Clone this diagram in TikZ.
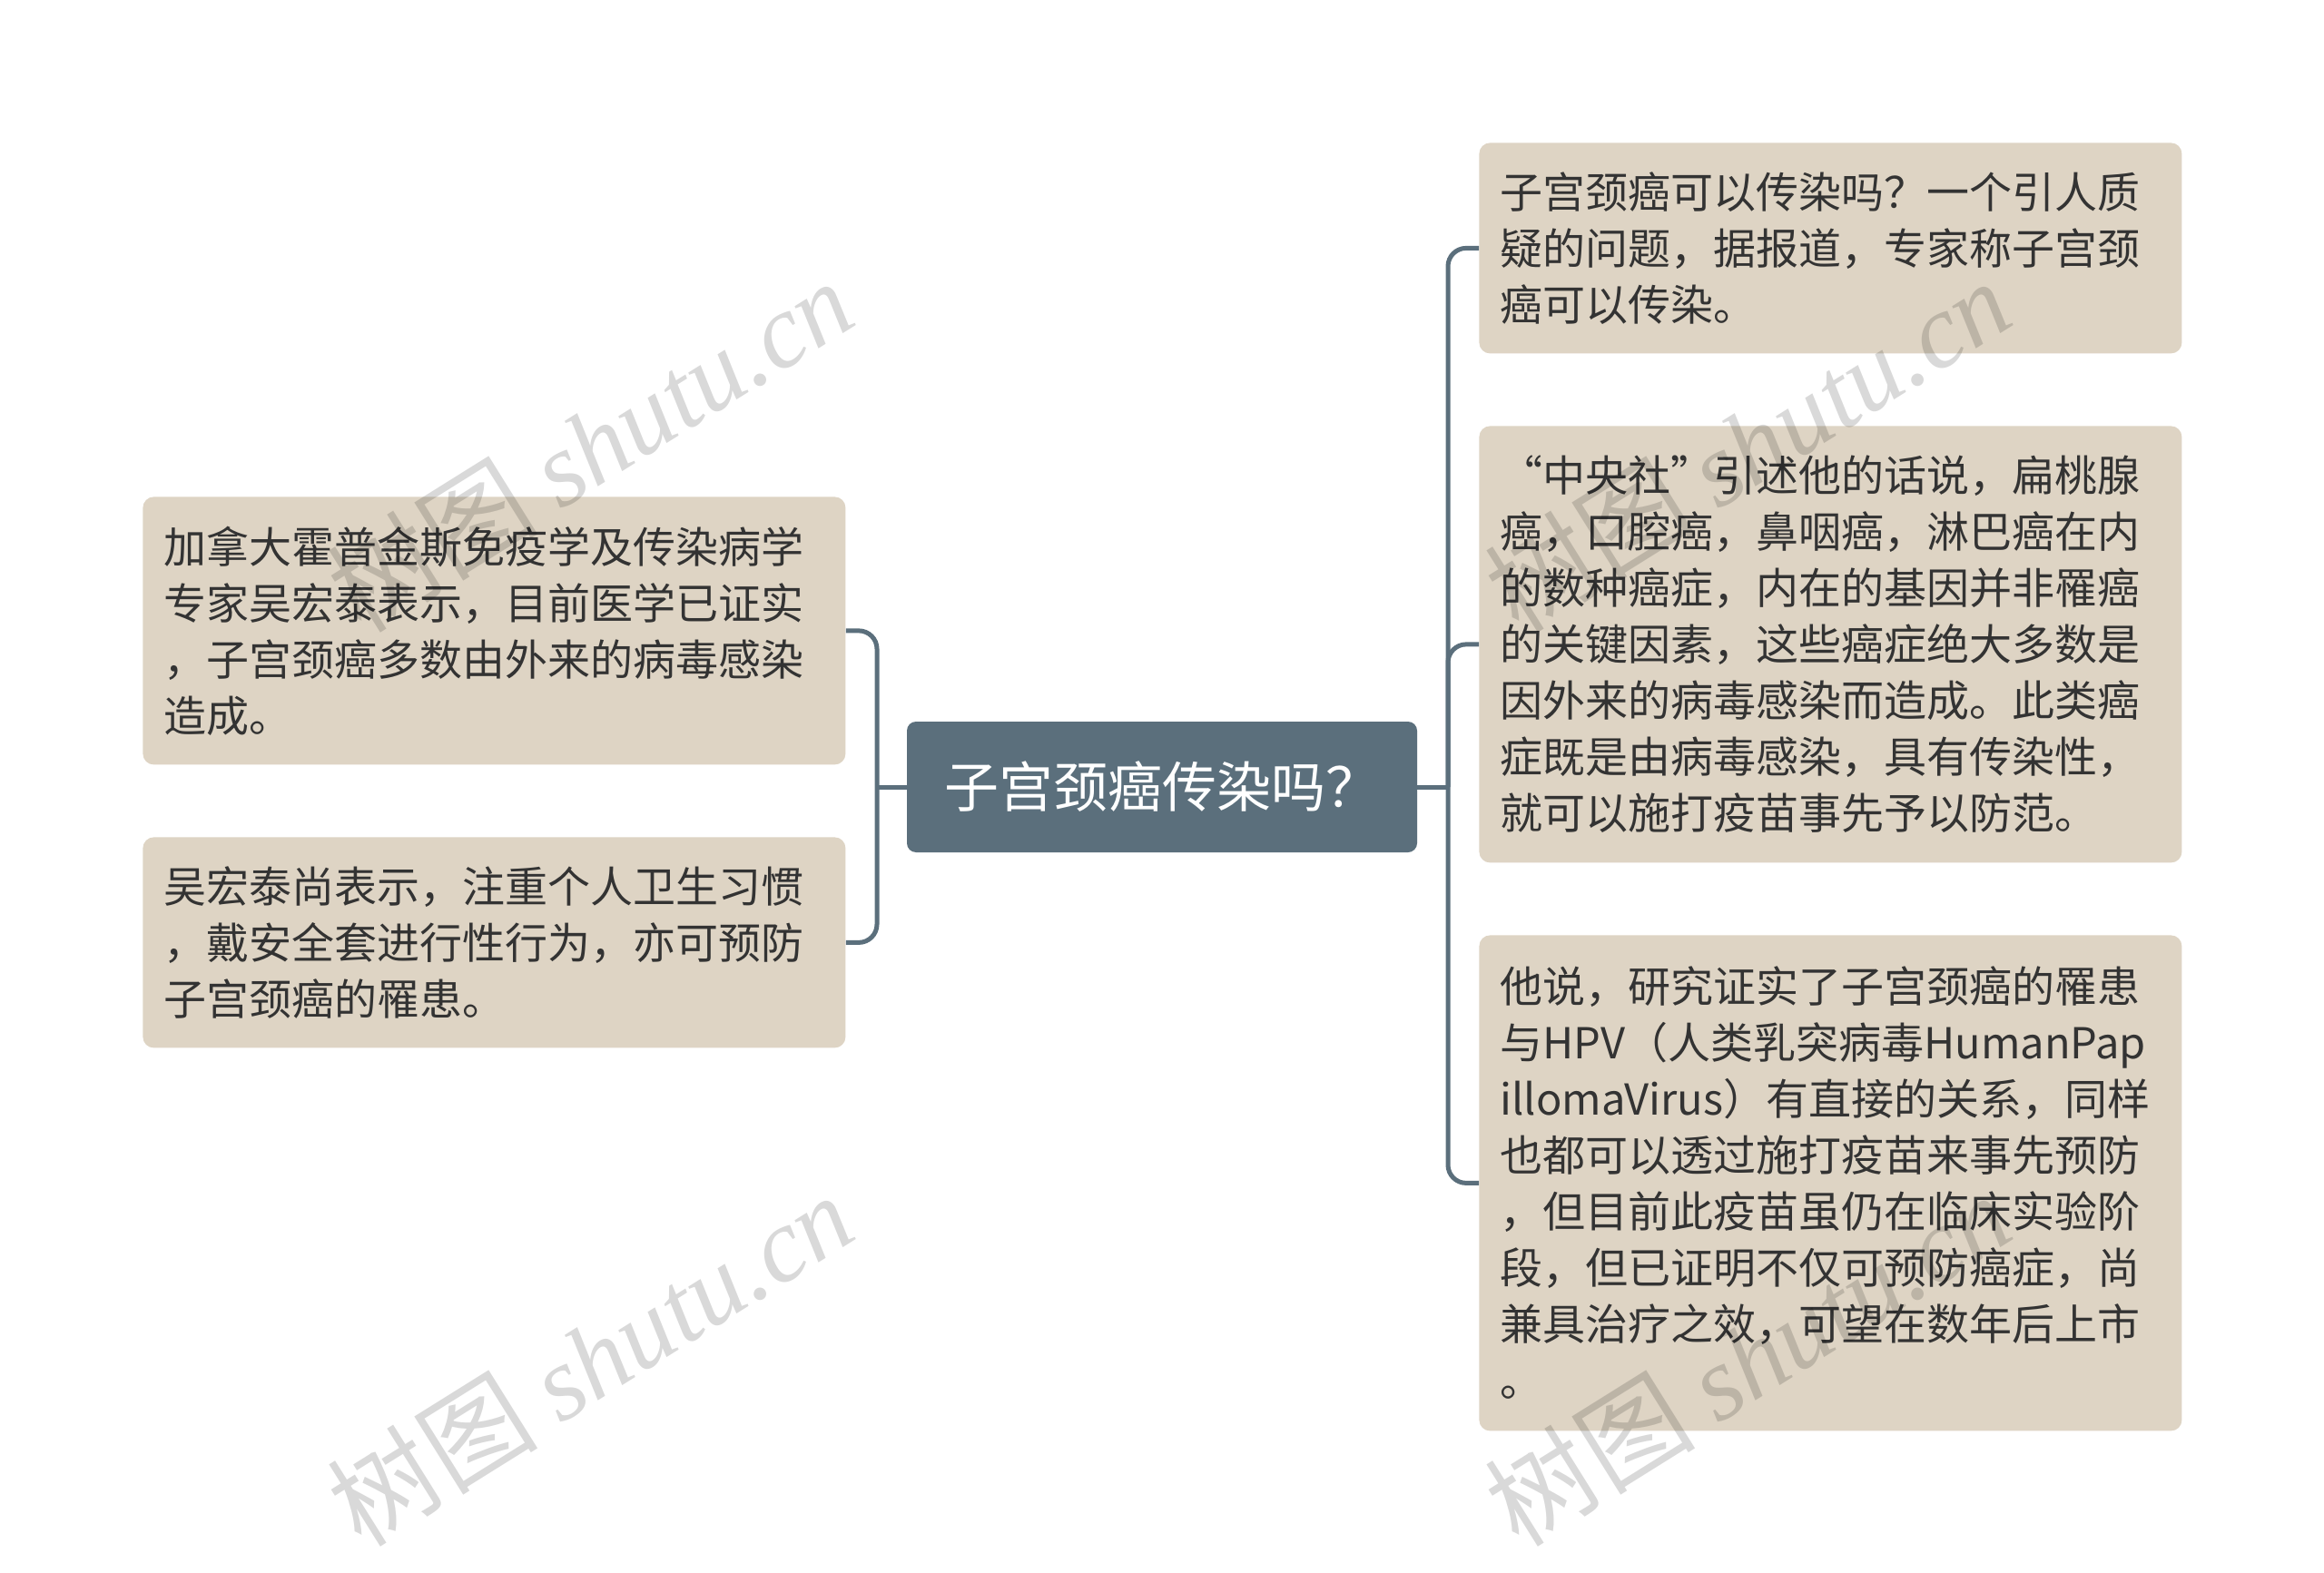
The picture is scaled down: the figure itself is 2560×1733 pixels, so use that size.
\documentclass[tikz,border=0pt]{standalone}
\usepackage{fontspec}
\setmainfont{Noto Sans CJK SC}
\newfontfamily\cjk{Noto Sans CJK SC}
\newfontfamily\wmlatin{Liberation Serif}
\definecolor{boxc}{HTML}{DED4C4}
\definecolor{mainc}{HTML}{5B6F7C}
\definecolor{txtc}{HTML}{333333}
\begin{document}
\begin{tikzpicture}[x=0.5pt,y=-0.5pt,
  leaf/.style={fill=boxc, rounded corners=6pt, anchor=north west, inner xsep=11.5pt, inner ysep=0pt,
    text width=364pt, align=left, font=\fontsize{23.5}{31}\selectfont, text=txtc},
  root/.style={fill=mainc, rounded corners=5pt, minimum width=281pt, minimum height=72pt,
    inner sep=0pt, text=white, font=\fontsize{30}{34}\selectfont},
  conn/.style={draw=mainc, line width=2.5pt, rounded corners=10pt},
  wm/.style={text=black, text opacity=0.15, rotate=32, inner sep=0pt,
    font=\fontsize{58}{58}\selectfont}]
\fill[white] (0,0) rectangle (2560,1733);
\useasboundingbox (0,0) rectangle (2560,1733);

\node[root] (C) at (1280,867) {子宫颈癌传染吗？};

\node[leaf, minimum height=147.5pt] (L1) at (157,547)
  {加拿大霍普金斯免疫学及传染病学\\专家吴宏泰表示，目前医学已证实\\，子宫颈癌多数由外来的病毒感染\\造成。};
\node[leaf, minimum height=116pt] (L2) at (157,922)
  {吴宏泰尚表示，注重个人卫生习惯\\，戴安全套进行性行为，亦可预防\\子宫颈癌的罹患。};

\node[leaf, minimum height=116pt] (R1) at (1629,157)
  {子宫颈癌可以传染吗？一个引人质\\疑的问题，据报道，专家称子宫颈\\癌可以传染。};
\node[leaf, minimum height=240.5pt] (R2) at (1629,469)
  {“中央社”引述他的话说，扁桃腺\\癌，口腔癌，鼻咽癌，淋巴癌在内\\的数种癌症，内在的基因并非罹癌\\的关键因素，这些癌症绝大多数是\\因外来的病毒感染而造成。此类癌\\症既是由病毒感染，具有传染性，\\就可以施打疫苗事先予以防范。};
\node[leaf, minimum height=273pt] (R3) at (1629,1030)
  {他说，研究证实了子宫颈癌的罹患\\与HPV（人类乳突病毒HumanPap\\illomaVirus）有直接的关系，同样\\也都可以透过施打疫苗来事先预防\\，但目前此疫苗虽仍在临床实验阶\\段，但已证明不仅可预防癌症，尚\\兼具治疗之效，可望在数年后上市\\。};

\coordinate (lj) at (966,867);
\coordinate (rj) at (1595,867);
\draw[conn] (C.west) -- (lj);
\draw[conn] (L1.east) -| (lj) |- (L2.east);
\draw[conn] (C.east) -- (rj);
\draw[conn] (R1.west) -| (rj) |- (R3.west);
\draw[conn] (R2.west) -| (rj);

\node[wm] (w1) at (650,490) {{\cjk 树图} {\wmlatin\itshape shutu.cn}};
\node[wm] (w2) at (1925,490) {{\cjk 树图} {\wmlatin\itshape shutu.cn}};
\node[wm] (w3) at (650,1497) {{\cjk 树图} {\wmlatin\itshape shutu.cn}};
\node[wm] (w4) at (1925,1497) {{\cjk 树图} {\wmlatin\itshape shutu.cn}};
\end{tikzpicture}
\end{document}
